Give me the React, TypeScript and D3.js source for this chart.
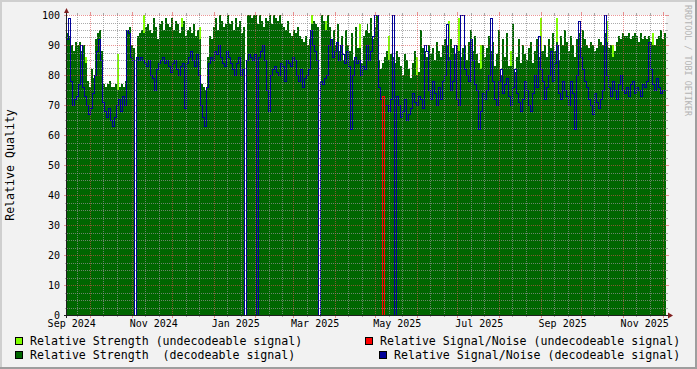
import React from "react";
import * as d3 from "d3";

// ---- data (one sample every ~1.48 days, Sep 14 2024 -> Dec 3 2025) ----
const STRENGTH_DECODED = [
  94, 93, 90, 88, 91, 90, 91, 88, 90, 84, 78, 76, 82, 79, 92, 94, 95, 88, 77, 76,
  77, 78, 76, 76, 77, 75, 76, 77, 76, 78, 95, 96, 90, 89, 0, 93, 94, 95, 94, 96,
  97, 95, 94, 99, 96, 92, 97, 98, 95, 99, 97, 96, 99, 95, 98, 97, 94, 96, 98, 93,
  95, 96, 94, 97, 93, 95, 92, 77, 76, 75, 86, 93, 92, 96, 99, 95, 100, 98, 96, 97,
  100, 97, 98, 95, 99, 96, 98, 94, 96, 0, 100, 100, 99, 100, 100, 97, 100, 98, 96, 99,
  98, 100, 97, 100, 99, 98, 100, 97, 96, 95, 98, 94, 93, 95, 94, 96, 93, 92, 91, 93,
  90, 92, 97, 98, 97, 96, 0, 100, 98, 95, 100, 96, 92, 95, 90, 97, 88, 93, 85, 95,
  90, 88, 94, 85, 96, 89, 89, 84, 93, 95, 97, 94, 99, 92, 96, 100, 85, 82, 84, 86,
  88, 85, 87, 86, 84, 88, 86, 83, 80, 87, 85, 82, 79, 84, 88, 80, 81, 95, 89, 88,
  86, 90, 87, 89, 85, 91, 88, 86, 90, 92, 90, 86, 92, 89, 87, 90, 88, 86, 89, 90,
  85, 91, 95, 88, 93, 87, 84, 82, 90, 86, 89, 93, 88, 91, 83, 87, 95, 80, 92, 86,
  94, 83, 83, 97, 81, 86, 92, 84, 90, 87, 85, 89, 91, 84, 88, 92, 86, 88, 88, 90,
  86, 92, 89, 94, 88, 91, 85, 93, 90, 95, 91, 88, 93, 90, 86, 92, 94, 89, 95, 92,
  90, 89, 91, 90, 88, 89, 92, 91, 90, 94, 91, 89, 90, 86, 88, 91, 93, 92, 94, 93,
  93, 94, 92, 93, 94, 93, 91, 94, 92, 93, 92, 93, 91, 90, 90, 92, 93, 95, 92, 94,
];

const SNR_DECODED = [
  92, 99, 78, 70, 72, 73, 77, 90, 76, 73, 70, 67, 69, 74, 80, 88, 92, 85, 71, 68,
  66, 69, 65, 63, 66, 70, 72, 68, 73, 70, 95, 94, 86, 85, 0, 86, 85, 86, 85, 84,
  83, 85, 80, 79, 75, 82, 84, 85, 86, 84, 85, 83, 81, 84, 85, 82, 80, 83, 84, 69,
  84, 86, 88, 85, 83, 87, 80, 70, 66, 63, 76, 84, 86, 85, 88, 87, 90, 86, 84, 83,
  88, 86, 84, 82, 80, 84, 86, 80, 82, 0, 85, 87, 86, 85, 87, 0, 86, 88, 90, 85,
  75, 68, 80, 82, 83, 81, 80, 84, 83, 78, 85, 84, 83, 86, 85, 80, 78, 82, 76, 79,
  80, 82, 95, 90, 88, 85, 0, 78, 77, 79, 80, 90, 92, 86, 88, 91, 85, 90, 87, 84,
  88, 83, 62, 80, 86, 84, 85, 80, 83, 82, 90, 85, 88, 93, 100, 100, 76, 72, 0, 70,
  70, 68, 72, 100, 0, 73, 70, 66, 68, 72, 65, 67, 69, 74, 71, 70, 73, 72, 69, 90,
  88, 75, 72, 78, 74, 70, 76, 72, 78, 80, 97, 85, 75, 78, 90, 72, 70, 100, 100, 82,
  80, 78, 92, 85, 77, 75, 62, 68, 74, 72, 75, 80, 99, 78, 72, 70, 78, 82, 74, 77,
  79, 73, 70, 76, 82, 74, 71, 68, 72, 78, 75, 70, 68, 74, 80, 76, 93, 82, 78, 72,
  76, 80, 88, 78, 84, 90, 74, 72, 78, 75, 73, 70, 78, 74, 62, 80, 98, 86, 82, 78,
  76, 72, 70, 67, 74, 71, 69, 72, 75, 100, 80, 76, 73, 78, 75, 72, 77, 80, 75, 74,
  76, 73, 77, 78, 74, 76, 75, 73, 77, 76, 78, 91, 82, 77, 75, 79, 76, 74, 75, 75,
];

const STRENGTH_UNDECODED = [
  0, 0, 0, 0, 0, 0, 0, 0, 0, 86, 0, 0, 0, 0, 0, 0, 0, 0, 0, 0,
  0, 0, 0, 0, 0, 87, 0, 0, 0, 0, 0, 0, 0, 0, 0, 0, 0, 0, 100, 0,
  0, 0, 0, 0, 0, 0, 0, 0, 0, 0, 0, 0, 0, 0, 0, 0, 0, 99, 0, 0,
  0, 0, 0, 0, 0, 0, 96, 0, 0, 0, 0, 0, 0, 0, 0, 0, 0, 0, 0, 0,
  0, 0, 0, 0, 0, 0, 0, 0, 0, 0, 0, 0, 0, 0, 0, 0, 0, 0, 0, 0,
  0, 0, 0, 0, 0, 0, 0, 0, 0, 0, 0, 0, 0, 0, 0, 0, 0, 0, 0, 0,
  0, 0, 100, 0, 0, 0, 0, 0, 0, 98, 0, 0, 0, 0, 0, 0, 0, 0, 0, 0,
  0, 0, 0, 0, 0, 0, 97, 0, 0, 0, 0, 0, 0, 0, 0, 0, 0, 0, 0, 0,
  0, 93, 0, 0, 0, 0, 0, 0, 0, 0, 0, 0, 0, 0, 0, 86, 0, 0, 0, 0,
  0, 0, 0, 0, 0, 0, 0, 0, 0, 0, 0, 98, 0, 0, 0, 0, 99, 0, 0, 0,
  0, 0, 0, 0, 0, 0, 0, 90, 0, 0, 0, 0, 0, 0, 0, 0, 0, 0, 0, 0,
  0, 0, 88, 0, 0, 0, 0, 0, 0, 0, 0, 0, 0, 0, 0, 0, 0, 99, 0, 0,
  0, 0, 0, 0, 0, 99, 0, 0, 0, 0, 0, 0, 0, 0, 0, 0, 0, 0, 0, 0,
  0, 0, 0, 0, 0, 0, 0, 0, 0, 0, 98, 0, 0, 90, 0, 0, 0, 0, 0, 0,
  0, 0, 0, 0, 0, 0, 0, 0, 0, 0, 0, 0, 0, 94, 0, 0, 0, 0, 0, 0,
];

const SNR_UNDECODED = [
  0, 0, 0, 0, 0, 0, 0, 0, 0, 0, 0, 0, 0, 0, 0, 0, 0, 0, 0, 0,
  0, 0, 0, 0, 0, 0, 0, 0, 0, 0, 0, 0, 0, 0, 0, 0, 0, 0, 0, 0,
  0, 0, 0, 0, 0, 0, 0, 0, 0, 0, 0, 0, 0, 0, 0, 0, 0, 0, 0, 0,
  0, 0, 0, 0, 0, 0, 0, 0, 0, 0, 0, 0, 0, 0, 0, 0, 0, 0, 0, 0,
  0, 0, 0, 0, 0, 0, 0, 0, 0, 0, 0, 0, 0, 0, 0, 0, 0, 0, 0, 0,
  0, 0, 0, 0, 0, 0, 0, 0, 0, 0, 0, 0, 0, 0, 0, 0, 0, 0, 0, 0,
  0, 0, 0, 0, 0, 0, 0, 0, 0, 0, 0, 0, 0, 0, 0, 0, 0, 0, 0, 0,
  0, 0, 0, 0, 0, 0, 0, 0, 0, 0, 0, 0, 0, 0, 0, 0, 0, 0, 73, 0,
  0, 0, 0, 0, 0, 0, 0, 0, 0, 0, 0, 0, 0, 0, 0, 0, 0, 0, 0, 0,
  0, 0, 0, 0, 0, 0, 0, 0, 0, 0, 0, 0, 0, 0, 0, 0, 0, 0, 0, 0,
  0, 0, 0, 0, 0, 0, 0, 0, 0, 0, 0, 0, 0, 0, 0, 0, 0, 0, 0, 0,
  0, 0, 0, 0, 0, 0, 0, 0, 0, 0, 0, 0, 0, 0, 0, 0, 0, 0, 0, 0,
  0, 0, 0, 0, 0, 0, 0, 0, 0, 0, 0, 0, 0, 0, 0, 0, 0, 0, 0, 0,
  0, 0, 0, 0, 0, 0, 0, 0, 0, 0, 0, 0, 0, 0, 0, 0, 0, 0, 0, 0,
  0, 0, 0, 0, 0, 0, 0, 0, 0, 0, 0, 0, 0, 0, 0, 0, 0, 0, 0, 0,
];

const Y_TICKS = [0, 10, 20, 30, 40, 50, 60, 70, 80, 90, 100];
const X_LABEL_MONTHS = ["2024-09-01", "2024-11-01", "2025-01-01", "2025-03-01", "2025-05-01", "2025-07-01", "2025-09-01", "2025-11-01"];
const X_LABELS = ["Sep 2024", "Nov 2024", "Jan 2025", "Mar 2025", "May 2025", "Jul 2025", "Sep 2025", "Nov 2025"];
const LEGEND_LABELS = [
  "Relative Strength (undecodeable signal)",
  "Relative Signal/Noise (undecodeable signal)",
  "Relative Strength  (decodeable signal)",
  "Relative Signal/Noise (decodeable signal)",
];
const Y_TITLE = "Relative Quality";
const WATERMARK = "RRDTOOL / TOBI OETIKER";

// ---- layout ----
const W = 697;
const H = 369;
const X0 = 67;
const X1 = 666;
const Y0 = 315;
const Y1 = 15;
const START = Date.UTC(2024, 8, 13, 21, 36);
const END = Date.UTC(2025, 11, 3, 5, 30);
const DAY = 86400000;
const FONT = "'DejaVu Sans Mono', monospace";

const C_LIGHT = "#80FF00";
const C_DARK = "#006600";
const C_RED = "#FF0000";
const C_BLUE = "#000099";
const C_GRID = "rgba(143,143,143,0.75)";
const C_MGRID = "rgba(222,79,79,0.6)";

type P = { t: number; v: number };

function toPoints(vals: number[]): P[] {
  const step = (END - START) / vals.length;
  const pts = vals.map((v, i) => ({ t: START + i * step, v }));
  pts.push({ t: END, v: vals[vals.length - 1] });
  return pts;
}

export default function App() {
  const x = d3.scaleUtc().domain([new Date(START), new Date(END)]).range([X0, X1]);
  const y = d3.scaleLinear().domain([0, 100]).range([Y0, Y1]);

  const area = d3
    .area<P>()
    .x((d) => x(new Date(d.t)))
    .y0(Y0)
    .y1((d) => y(d.v))
    .curve(d3.curveStepAfter);
  const line = d3
    .line<P>()
    .x((d) => x(new Date(d.t)))
    .y((d) => y(d.v))
    .curve(d3.curveStepAfter);

  const majorMonths = d3.utcMonth.range(new Date(START), new Date(END));
  const minorDays: Date[] = [];
  d3.utcMonth.range(d3.utcMonth.floor(new Date(START)), new Date(END)).forEach((m) => {
    [10, 20].forEach((k) => {
      const d = new Date(m.getTime() + k * DAY);
      if (d.getTime() > START && d.getTime() < END) minorDays.push(d);
    });
  });
  const minorY: number[] = [];
  for (let v = 2.5; v < 100; v += 2.5) if (v % 10 !== 0) minorY.push(v);

  const px = (v: number) => Math.round(v) + 0.5;

  return (
    <svg width={W} height={H} style={{ position: "absolute", left: 0, top: 0 }} fontFamily={FONT}>
      <rect x={0} y={0} width={W} height={H} fill="#F2F2F2" />
      {/* frame shades */}
      <rect x={0} y={0} width={W} height={2} fill="#CFCFCF" />
      <rect x={0} y={0} width={2} height={H} fill="#CFCFCF" />
      <rect x={0} y={H - 2} width={W} height={2} fill="#9E9E9E" />
      <rect x={W - 2} y={0} width={2} height={H} fill="#9E9E9E" />

      <rect x={X0} y={Y1} width={X1 - X0} height={Y0 - Y1} fill="#FFFFFF" />

      <g shapeRendering="crispEdges">
        <path d={area(toPoints(STRENGTH_UNDECODED)) || ""} fill={C_LIGHT} />
        <path d={area(toPoints(STRENGTH_DECODED)) || ""} fill={C_DARK} />
        <path d={line(toPoints(SNR_DECODED)) || ""} fill="none" stroke={C_BLUE} strokeWidth={1} />
        <path d={line(toPoints(SNR_UNDECODED)) || ""} fill="none" stroke={C_RED} strokeWidth={1} />
      </g>

      {/* grid */}
      <g shapeRendering="crispEdges">
        {minorY.map((v) => (
          <g key={"my" + v}>
            <line x1={X0 - 2} x2={X0} y1={px(y(v))} y2={px(y(v))} stroke={C_GRID} />
            <line x1={X1} x2={X1 + 2} y1={px(y(v))} y2={px(y(v))} stroke={C_GRID} />
            <line x1={X0} x2={X1} y1={px(y(v))} y2={px(y(v))} stroke={C_GRID} strokeDasharray="1,1" />
          </g>
        ))}
        {minorDays.map((d, i) => (
          <g key={"mx" + i}>
            <line x1={px(x(d))} x2={px(x(d))} y1={Y0} y2={Y0 + 2} stroke={C_GRID} />
            <line x1={px(x(d))} x2={px(x(d))} y1={Y1 - 2} y2={Y1} stroke={C_GRID} />
            <line x1={px(x(d))} x2={px(x(d))} y1={Y1} y2={Y0} stroke={C_GRID} strokeDasharray="1,1" />
          </g>
        ))}
        {Y_TICKS.filter((v) => v > 0).map((v) => (
          <g key={"My" + v}>
            <line x1={X0 - 3} x2={X0} y1={px(y(v))} y2={px(y(v))} stroke={C_MGRID} />
            <line x1={X1} x2={X1 + 3} y1={px(y(v))} y2={px(y(v))} stroke={C_MGRID} />
            <line x1={X0} x2={X1} y1={px(y(v))} y2={px(y(v))} stroke={C_MGRID} strokeDasharray="1,1" />
          </g>
        ))}
        {majorMonths.map((d, i) => (
          <g key={"Mx" + i}>
            <line x1={px(x(d))} x2={px(x(d))} y1={Y0} y2={Y0 + 3} stroke={C_MGRID} />
            <line x1={px(x(d))} x2={px(x(d))} y1={Y1 - 3} y2={Y1} stroke={C_MGRID} />
            <line x1={px(x(d))} x2={px(x(d))} y1={Y1} y2={Y0} stroke={C_MGRID} strokeDasharray="1,1" />
          </g>
        ))}
      </g>

      {/* axes */}
      <g shapeRendering="crispEdges">
        <line x1={X0 - 3} x2={X1 + 4} y1={Y0 + 0.5} y2={Y0 + 0.5} stroke="#1F1F1F" />
        <line x1={X0 - 0.5} x2={X0 - 0.5} y1={Y0 + 3} y2={Y1 - 4} stroke="#1F1F1F" />
      </g>
      <polygon points={`${X1 + 2},${Y0 - 2.5} ${X1 + 7},${Y0 + 0.5} ${X1 + 2},${Y0 + 3.5}`} fill="#801F1F" />
      <polygon points={`${X0 - 3},${Y1 - 2} ${X0 - 0.5},${Y1 - 7} ${X0 + 2},${Y1 - 2}`} fill="#801F1F" />

      {/* y labels */}
      {Y_TICKS.map((v) => (
        <text key={"yl" + v} x={60} y={y(v) + 3.5} textAnchor="end" fontSize={10} fill="#000">
          {v}
        </text>
      ))}
      {/* x labels */}
      {X_LABEL_MONTHS.map((m, i) => {
        const t = new Date(m + "T00:00:00Z").getTime() + 16.4 * DAY;
        return (
          <text key={"xl" + i} x={x(new Date(t))} y={327} textAnchor="middle" fontSize={10} fill="#000">
            {X_LABELS[i]}
          </text>
        );
      })}

      <text transform={`translate(14,165) rotate(-90)`} textAnchor="middle" fontSize={11.6} fill="#000">
        {Y_TITLE}
      </text>

      <text transform={`translate(685,5) rotate(90)`} fontSize={8.4} fill="#B4B4B4">
        {WATERMARK}
      </text>

      {/* legend */}
      <g shapeRendering="crispEdges">
        <rect x={15.5} y={337.5} width={7} height={7} fill={C_LIGHT} stroke="#000" />
        <rect x={15.5} y={351.5} width={7} height={7} fill={C_DARK} stroke="#000" />
        <rect x={365.5} y={337.5} width={7} height={7} fill={C_RED} stroke="#000" />
        <rect x={379.5} y={351.5} width={7} height={7} fill={C_BLUE} stroke="#000" />
      </g>
      <text x={30} y={345} fontSize={11.6} fill="#000" style={{ whiteSpace: "pre" }}>
        {LEGEND_LABELS[0]}
      </text>
      <text x={380} y={345} fontSize={11.6} fill="#000" style={{ whiteSpace: "pre" }}>
        {LEGEND_LABELS[1]}
      </text>
      <text x={30} y={358.5} fontSize={11.6} fill="#000" style={{ whiteSpace: "pre" }}>
        {LEGEND_LABELS[2]}
      </text>
      <text x={394} y={358.5} fontSize={11.6} fill="#000" style={{ whiteSpace: "pre" }}>
        {LEGEND_LABELS[3]}
      </text>
    </svg>
  );
}
